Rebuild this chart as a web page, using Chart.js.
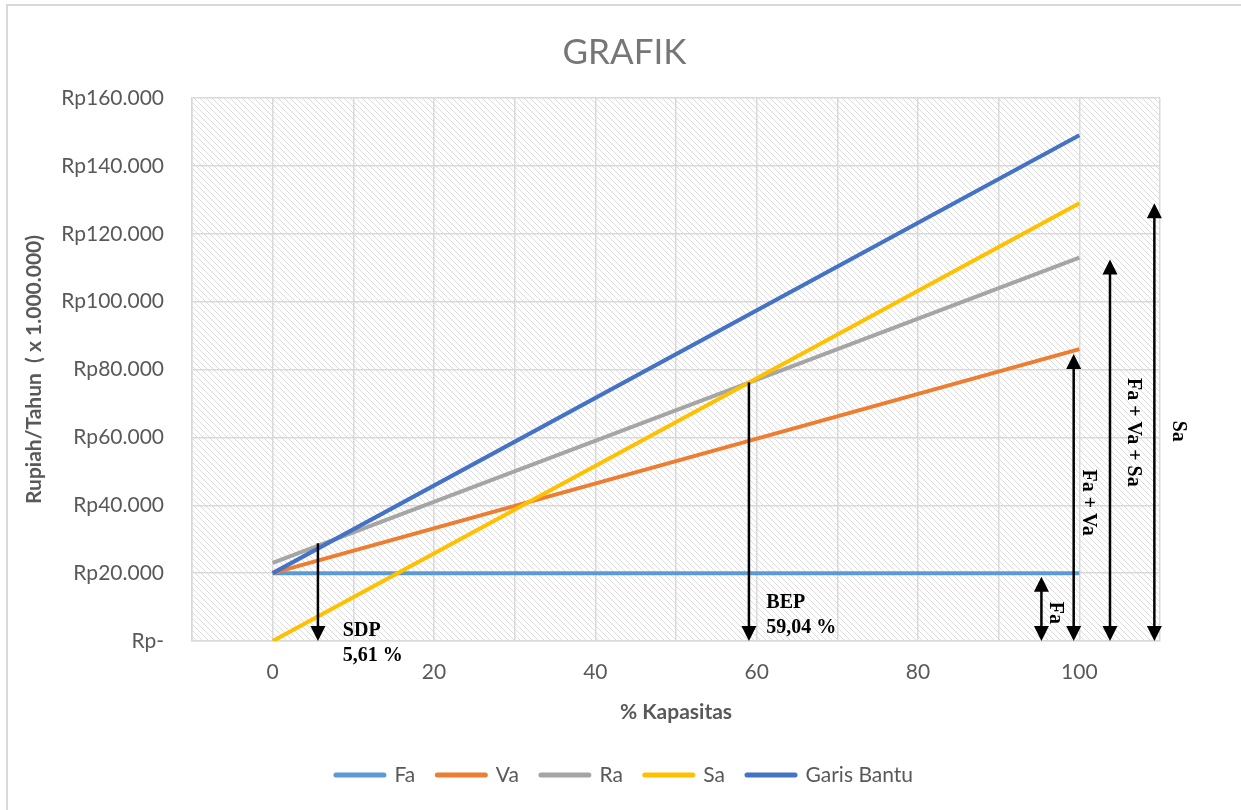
<!DOCTYPE html>
<html>
<head>
<meta charset="utf-8">
<script src="https://cdn.jsdelivr.net/npm/chart.js@4.4.1/dist/chart.umd.min.js"></script>
<style>
  html, body { margin: 0; padding: 0; background: #ffffff; }
  #wrap { width: 1241px; height: 810px; }
</style>
</head>
<body>
<div id="wrap"><canvas id="grafik" width="1241" height="810"></canvas></div>
<script>
// Kapasitas (%) at which each cost / revenue line is evaluated
const kapasitas = [0, 100];

// Series values (Rupiah per tahun, x 1.000.000)
const fa = [20000, 20000];          // biaya tetap
const va = [20000, 86000];          // biaya tetap + variabel
const ra = [23000, 113000];         // Ra
const sa = [0, 129000];             // penjualan
const garisBantu = [20000, 149000]; // garis bantu

const seriesNames = ['Fa', 'Va', 'Ra', 'Sa', 'Garis Bantu'];
const seriesValues = [fa, va, ra, sa, garisBantu];
const seriesColors = ['#5B9BD5', '#ED7D31', '#A5A5A5', '#FFC000', '#4472C4'];

// Tick values
const xTickLabels = [0, 20, 40, 60, 80, 100];
const yTickValues = [0, 20000, 40000, 60000, 80000, 100000, 120000, 140000, 160000];

// Vertical arrows (x in %, ends in Rupiah); 'bawah' = head at bottom only, 'dua' = both ends
const panahX = [5.61, 59.04, 95.3, 99.3, 103.8, 109.3];
const panahAtas = [28800, 76200, 18900, 84600, 112400, 129000];
const panahBawah = [0, 0, 0, 0, 0, 0];
const panahKepala = ['bawah', 'bawah', 'dua', 'dua', 'dua', 'dua'];

// Annotation texts with their anchor in chart values
const catatanTeks = [['SDP', '5,61 %'], ['BEP', '59,04 %'], ['Fa'], ['Fa + Va'], ['Fa + Va + Sa'], ['Sa']];
const catatanX = [8.7, 61.2, 97.0, 101.1, 106.7, 112.3];
const catatanY = [3000, 11200, 8300, 40800, 61500, 61800];
const catatanTegak = [false, false, true, true, true, true];

const fontSans = 'Lato, "Open Sans", "Noto Sans", sans-serif';
const fontSerif = '"Liberation Serif", "DejaVu Serif", serif';
const abu = '#595959';
const garisGrid = '#d9d9d9';

function formatRupiah(v) {
  if (v === 0) return 'Rp-';
  return 'Rp' + String(v).replace(/\B(?=(\d{3})+(?!\d))/g, '.');
}

// Fine diagonal hatch used behind the plot area
function buatPolaArsir(ctx) {
  const t = document.createElement('canvas');
  t.width = 6; t.height = 6;
  const c = t.getContext('2d');
  c.fillStyle = '#ffffff';
  c.fillRect(0, 0, 6, 6);
  c.fillStyle = '#dcdcdc';
  for (let i = 0; i < 6; i++) c.fillRect(i, i, 1, 1);
  return ctx.createPattern(t, 'repeat');
}

const latarPlugin = {
  id: 'latar',
  beforeDraw(chart) {
    const { ctx, chartArea: a } = chart;
    ctx.save();
    ctx.fillStyle = '#ffffff';
    ctx.fillRect(0, 0, chart.width, chart.height);
    // outer frame of the chart object
    ctx.strokeStyle = '#d9d9d9';
    ctx.lineWidth = 2;
    ctx.beginPath();
    ctx.moveTo(7, chart.height + 5);
    ctx.lineTo(7, 5);
    ctx.lineTo(chart.width + 5, 5);
    ctx.stroke();
    // hatched plot area
    ctx.fillStyle = buatPolaArsir(ctx);
    ctx.fillRect(a.left, a.top, a.right - a.left, a.bottom - a.top);
    ctx.restore();
  }
};

function kepalaPanah(ctx, x, yUjung, arah) {
  // arah = +1 points down, -1 points up
  const panjang = 15, lebar = 7.5;
  ctx.beginPath();
  ctx.moveTo(x, yUjung);
  ctx.lineTo(x - lebar, yUjung - arah * panjang);
  ctx.lineTo(x + lebar, yUjung - arah * panjang);
  ctx.closePath();
  ctx.fill();
}

const penandaPlugin = {
  id: 'penanda',
  afterDatasetsDraw(chart) {
    const { ctx, scales: { x, y } } = chart;
    ctx.save();
    ctx.strokeStyle = '#000000';
    ctx.fillStyle = '#000000';
    ctx.lineWidth = 2.5;
    panahX.forEach((vx, i) => {
      const px = x.getPixelForValue(vx);
      const pAtas = y.getPixelForValue(panahAtas[i]);
      const pBawah = y.getPixelForValue(panahBawah[i]);
      const dua = panahKepala[i] === 'dua';
      ctx.beginPath();
      ctx.moveTo(px, dua ? pAtas + 12 : pAtas);
      ctx.lineTo(px, pBawah - 12);
      ctx.stroke();
      kepalaPanah(ctx, px, pBawah, 1);
      if (dua) kepalaPanah(ctx, px, pAtas, -1);
    });

    ctx.font = 'bold 20px ' + fontSerif;
    ctx.textBaseline = 'middle';
    catatanTeks.forEach((baris, i) => {
      const px = x.getPixelForValue(catatanX[i]);
      const py = y.getPixelForValue(catatanY[i]);
      if (catatanTegak[i]) {
        ctx.save();
        ctx.translate(px, py);
        ctx.rotate(Math.PI / 2);
        ctx.textAlign = 'center';
        ctx.fillText(baris[0], 0, 0);
        ctx.restore();
      } else {
        ctx.textAlign = 'left';
        baris.forEach((t, j) => ctx.fillText(t, px, py + j * 25));
      }
    });
    ctx.restore();
  }
};

const datasets = seriesNames.map((nama, i) => ({
  label: nama,
  data: kapasitas.map((k, j) => ({ x: k, y: seriesValues[i][j] })),
  borderColor: seriesColors[i],
  backgroundColor: seriesColors[i],
  borderWidth: 4,
  pointRadius: 0,
  pointHoverRadius: 0,
  tension: 0,
  fill: false,
  order: seriesNames.length - 1 - i
}));

new Chart(document.getElementById('grafik'), {
  type: 'line',
  data: { datasets },
  options: {
    responsive: false,
    animation: false,
    events: [],
    layout: { padding: { left: 24, right: 16, top: 10, bottom: 14.5 } },
    scales: {
      x: {
        type: 'linear',
        min: -10,
        max: 110,
        ticks: {
          stepSize: 10,
          autoSkip: false,
          maxRotation: 0,
          padding: 19,
          color: abu,
          font: { family: fontSans, size: 21 },
          callback: v => (xTickLabels.includes(v) ? String(v) : '')
        },
        grid: { color: garisGrid, lineWidth: 1.5, drawTicks: false },
        border: { display: true, color: garisGrid, width: 1.5 },
        title: {
          display: true,
          text: '% Kapasitas',
          color: abu,
          font: { family: fontSans, size: 21, weight: 'bold' },
          padding: { top: 0, bottom: 18 }
        },
        afterFit: s => { s.height = 101.5; }
      },
      y: {
        type: 'linear',
        position: 'left',
        min: 0,
        max: 160000,
        afterBuildTicks: s => { s.ticks = yTickValues.map(v => ({ value: v })); },
        ticks: {
          padding: 28,
          color: abu,
          font: { family: fontSans, size: 21 },
          callback: v => formatRupiah(v)
        },
        grid: { color: garisGrid, lineWidth: 1.5, drawTicks: false },
        border: { display: true, color: garisGrid, width: 1.5 },
        title: {
          display: true,
          text: 'Rupiah/Tahun  ( x 1.000.000)',
          color: abu,
          font: { family: fontSans, size: 21, weight: 'bold' },
          padding: { top: -2, bottom: 0 }
        },
        afterFit: s => { s.width = 168; }
      },
      ruangKanan: {
        type: 'linear',
        position: 'right',
        display: true,
        min: 0,
        max: 1,
        grid: { display: false, drawTicks: false },
        border: { display: false },
        ticks: { display: false },
        afterFit: s => { s.width = 65; }
      }
    },
    plugins: {
      title: {
        display: true,
        text: 'GRAFIK',
        color: '#767676',
        font: { family: fontSans, size: 35, weight: 'normal' },
        padding: { top: 22, bottom: 24 }
      },
      legend: {
        position: 'bottom',
        labels: {
          usePointStyle: true,
          pointStyle: 'line',
          pointStyleWidth: 48,
          padding: 22,
          color: abu,
          font: { family: fontSans, size: 21 },
          sort: (a, b) => a.datasetIndex - b.datasetIndex,
          generateLabels: chart => {
            const items = Chart.defaults.plugins.legend.labels.generateLabels(chart);
            items.forEach(it => { it.lineWidth = 5; it.lineCap = 'round'; });
            return items;
          }
        }
      },
      tooltip: { enabled: false }
    }
  },
  plugins: [latarPlugin, penandaPlugin]
});
</script>
</body>
</html>
